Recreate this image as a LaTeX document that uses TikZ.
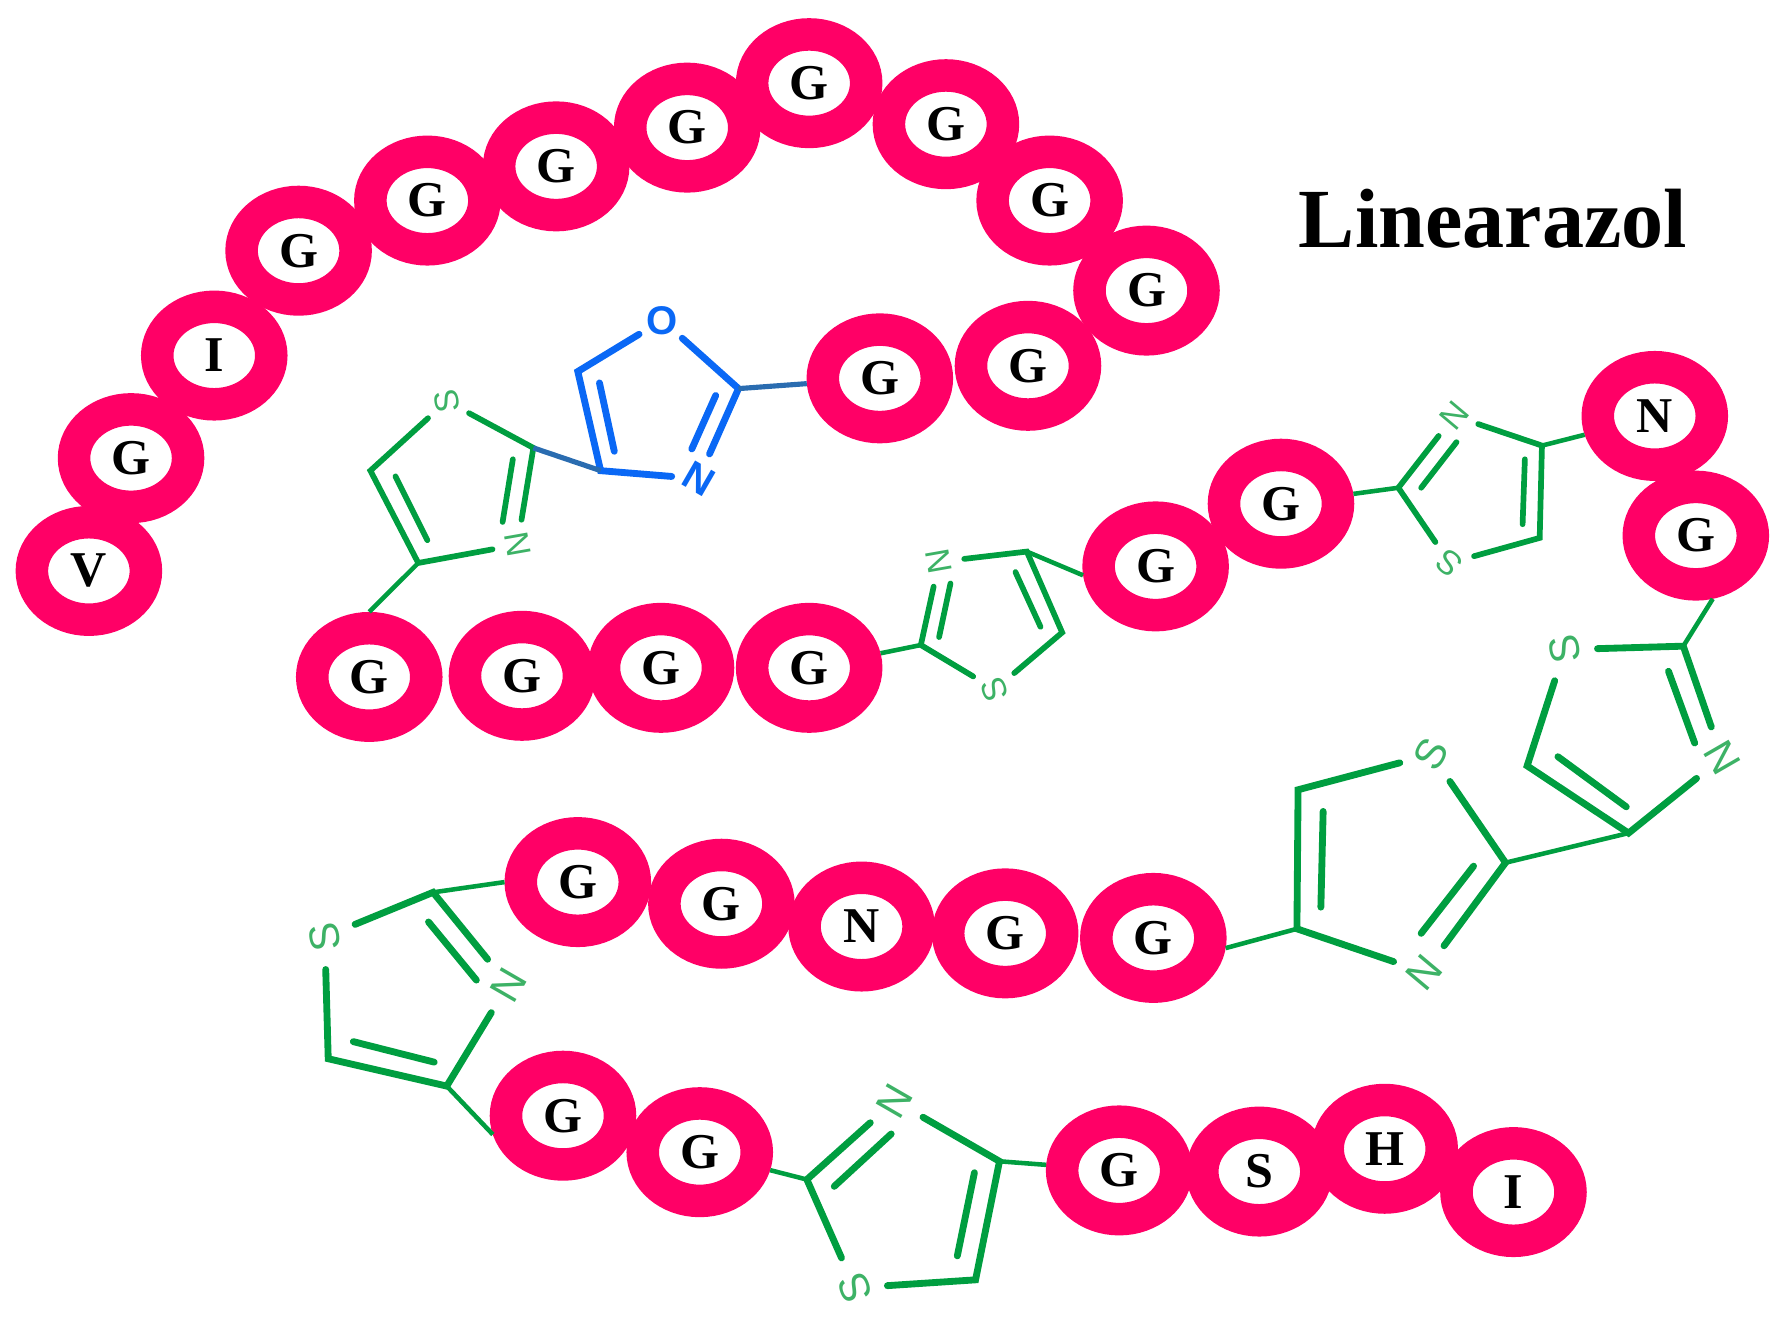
\documentclass[tikz,border=0pt]{standalone}
\usepackage{fontspec}
\setmainfont{Liberation Serif}
\setsansfont{Liberation Sans}
\usetikzlibrary{shapes.geometric}
\definecolor{beadpink}{HTML}{FF0066}
\definecolor{ringgreen}{HTML}{009E40}
\definecolor{atomgreen}{HTML}{3DB266}
\definecolor{ringblue}{HTML}{0A68F5}
\definecolor{linkblue}{HTML}{2A6CB0}
\tikzset{
bead/.style={ellipse,draw=beadpink,line width=.285cm,fill=white,minimum width=1cm,minimum height=.855cm,inner sep=0pt,font=\fontsize{12.5}{14}\selectfont\bfseries},
atom/.style={circle,minimum size=.43cm,inner sep=0pt,text=atomgreen,font=\fontsize{8.5}{10}\selectfont\sffamily},
bigatom/.style={atom,minimum size=.56cm,font=\fontsize{10.5}{12}\selectfont\sffamily},
blueatom/.style={atom,minimum size=.46cm,text=ringblue,font=\fontsize{10}{12}\selectfont\sffamily\bfseries},
bond/.style={ringgreen,line width=.05cm,line cap=round},
bigbond/.style={ringgreen,line width=.06cm,line cap=round},
link/.style={ringgreen,line width=.04cm},
bluebond/.style={ringblue,line width=.06cm,line cap=round},
bluelink/.style={linkblue,line width=.045cm}
}
\begin{document}
\begin{tikzpicture}[x=.01cm,y=-.01cm]
\useasboundingbox (0,0) rectangle (1568,1177);
\foreach \name/\x/\y/\aa in {v1/78/501/V,g2/115/402/G,i3/188/312/I,g4/262/220/G,g5/375/176/G,g6/488/146/G,g7/603/112/G,g8/710/73/G,g9/830/109/G,g10/921/176/G,g11/1006/255/G,g12/902/321/G,g13/772/332/G,
g14/324/594/G,g15/458/593/G,g16/580/586/G,g17/710/586/G,g18/1014/497/G,g19/1124/442/G,n20/1452/365/N,g21/1488/470/G,
g22/507/774/G,g23/633/793/G,n24/756/813/N,g25/882/819/G,g26/1012/823/G,
g27/494/979/G,g28/614/1011/G,g29/982/1027/G,s30/1105/1028/S,h31/1215/1008/H,i32/1328/1046/I}
\node[bead] (\name) at (\x,\y) {\aa};
\node[font=\fontsize{21}{24}\selectfont\bfseries] (title) at (1310,192) {Linearazol};
% ring corners, inner bond ends
\foreach \name/\x/\y in {oxa/648/341,oxb/527/413,oxc/507/326,oxd/628/347,oxe/607/394,oxf/526/336,oxg/539/396,
ta/468/393,tb/367/494,tc/325/413,td/450/403,te/441/458,tf/347/418,tg/375/474,
ua/808/566,ub/901/484,uc/932/555,ud/824/559,ue/834/512,uf/891/502,ug/913/550,
va/1227/428,vb/1353/391,vc/1351/472,vd/1247/428,ve/1278/388,vf/1338/403,vg/1336/460,
wa/1477/567,wb/1429/731,wc/1340/672,wd/1464/589,we/1487/652,wf/1367/664,wg/1427/708,
xa/1321/757,xb/1138/815,xc/1139/693,xd/1293/760,xe/1247/819,xf/1161/712,xg/1159/796,
ya/380/783,yb/392/953,yc/288/929,yd/376/809,ye/418/860,yf/310/914,yg/381/932,
za/708/1035,zb/877/1019,zc/856/1123,zd/732/1041,ze/782/995,zf/855/1029,zg/840/1102}
\coordinate (\name) at (\x,\y);
\node[blueatom] (oxo) at (581,281) {O};
\node[blueatom,rotate=-30] (oxn) at (613,420) {N};
\foreach \name/\x/\y/\aa/\ang in {ts/392/352/S/100,tn/454/478/N/100,us/873/605/S/110,un/824/493/N/100,vs/1272/494/S/140,vn/1276/365/N/50}
\node[atom,rotate=\ang] (\name) at (\x,\y) {\aa};
\foreach \name/\x/\y/\aa/\ang in {ws/1373/570/S/100,wn/1511/665/N/120,xs/1256/662/S/60,xn/1250/853/N/50,ys/285/822/S/100,yn/446/864/N/60,zs/750/1130/S/110,zn/785/966/N/60}
\node[bigatom,rotate=\ang] (\name) at (\x,\y) {\aa};
\draw[bluebond] (oxa) -- (oxo) (oxo) -- (oxc) -- (oxb) -- (oxn) (oxn) -- (oxa) (oxd) -- (oxe) (oxf) -- (oxg);
\draw[bond] (ts) -- (ta) -- (tn) (tn) -- (tb) -- (tc) -- (ts) (td) -- (te) (tf) -- (tg);
\draw[bond] (un) -- (ua) -- (us) (us) -- (uc) -- (ub) -- (un) (ud) -- (ue) (uf) -- (ug);
\draw[bond] (vn) -- (va) -- (vs) (vs) -- (vc) -- (vb) -- (vn) (vd) -- (ve) (vf) -- (vg);
\draw[bigbond] (ws) -- (wa) -- (wn) (wn) -- (wb) -- (wc) -- (ws) (wd) -- (we) (wf) -- (wg);
\draw[bigbond] (xs) -- (xa) -- (xn) (xn) -- (xb) -- (xc) -- (xs) (xd) -- (xe) (xf) -- (xg);
\draw[bigbond] (ys) -- (ya) -- (yn) (yn) -- (yb) -- (yc) -- (ys) (yd) -- (ye) (yf) -- (yg);
\draw[bigbond] (zn) -- (za) -- (zs) (zs) -- (zc) -- (zb) -- (zn) (zd) -- (ze) (zf) -- (zg);
\draw[bluelink] (g13) -- (oxa) (oxb) -- (ta);
\draw[link] (tb) -- (g14.north) (g17) -- (ua) (ub) -- (g18.187) (g19) -- (va) (vb) -- (n20.195) (g21.-75) -- (wa) (wb) -- (xa) (xb) -- (g26.-8) (g22.west) -- (ya) (yb) -- (g27.195) (g28) -- (za) (zb) -- (g29);
\end{tikzpicture}
\end{document}
